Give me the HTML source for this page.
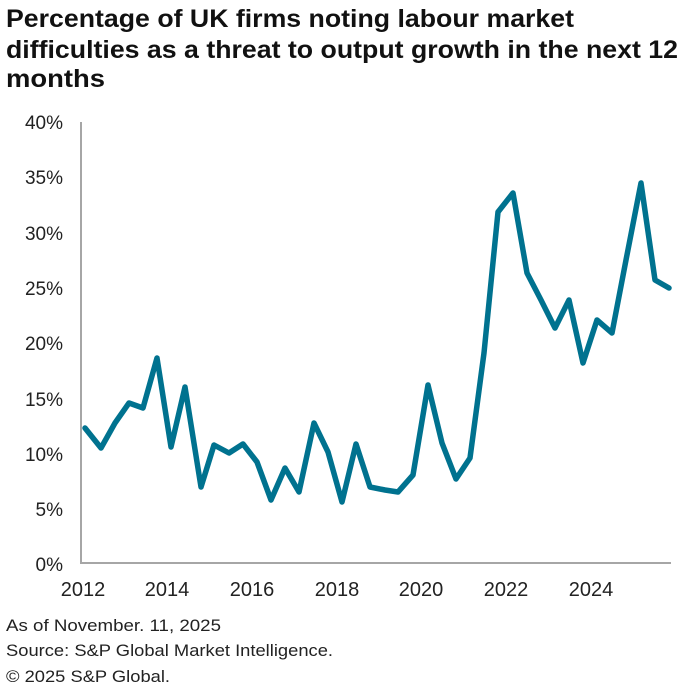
<!DOCTYPE html>
<html><head><style>
body{margin:0;background:#fff;width:694px;height:694px;overflow:hidden;font-family:"Liberation Sans",Arial,sans-serif;}
</style></head><body>
<svg width="694" height="694" xmlns="http://www.w3.org/2000/svg" font-family="Liberation Sans, Arial, sans-serif">
<text x="6" y="27" font-size="25" font-weight="bold" fill="#111" textLength="568" lengthAdjust="spacingAndGlyphs">Percentage of UK firms noting labour market</text>
<text x="6" y="58" font-size="25" font-weight="bold" fill="#111" textLength="672" lengthAdjust="spacingAndGlyphs">difficulties as a threat to output growth in the next 12</text>
<text x="6" y="87" font-size="25" font-weight="bold" fill="#111" textLength="99" lengthAdjust="spacingAndGlyphs">months</text>
<g font-size="19" fill="#222" text-anchor="end">
<text x="63" y="129">40%</text>
<text x="63" y="184">35%</text>
<text x="63" y="240">30%</text>
<text x="63" y="295">25%</text>
<text x="63" y="350">20%</text>
<text x="63" y="406">15%</text>
<text x="63" y="461">10%</text>
<text x="63" y="516">5%</text>
<text x="63" y="571">0%</text>
</g>
<g font-size="20" fill="#222" text-anchor="middle">
<text x="83" y="596">2012</text><text x="167" y="596">2014</text><text x="252" y="596">2016</text>
<text x="337" y="596">2018</text><text x="421" y="596">2020</text><text x="506" y="596">2022</text><text x="591" y="596">2024</text>
</g>
<line x1="81" y1="122" x2="81" y2="564" stroke="#a6a6a6" stroke-width="2"/>
<line x1="80" y1="563" x2="671" y2="563" stroke="#a6a6a6" stroke-width="2"/>
<polyline fill="none" stroke="#00728f" stroke-width="5.5" stroke-linejoin="round" stroke-linecap="round"
points="85,428 101,448 115,423 129,403 143,408 157,358 171,447 185,387 201,487 214,445 229,453 243,444 257,462 271,500 285,468 299,492 314,423 328,452 342,502 356,444 370,487 385,490 398,492 413,475 428,385 442,443 456,479 470,458 484,353 498,212 513,193 527,273 541,300 555,328 569,300 583,363 597,320 612,333 626,260 641,183 655,280 669,288"/>
<g font-size="17" fill="#222">
<text x="6" y="631" textLength="215" lengthAdjust="spacingAndGlyphs">As of November. 11, 2025</text>
<text x="6" y="656" textLength="327" lengthAdjust="spacingAndGlyphs">Source: S&amp;P Global Market Intelligence.</text>
<text x="6" y="682" textLength="164" lengthAdjust="spacingAndGlyphs">© 2025 S&amp;P Global.</text>
</g>
</svg>
</body></html>
